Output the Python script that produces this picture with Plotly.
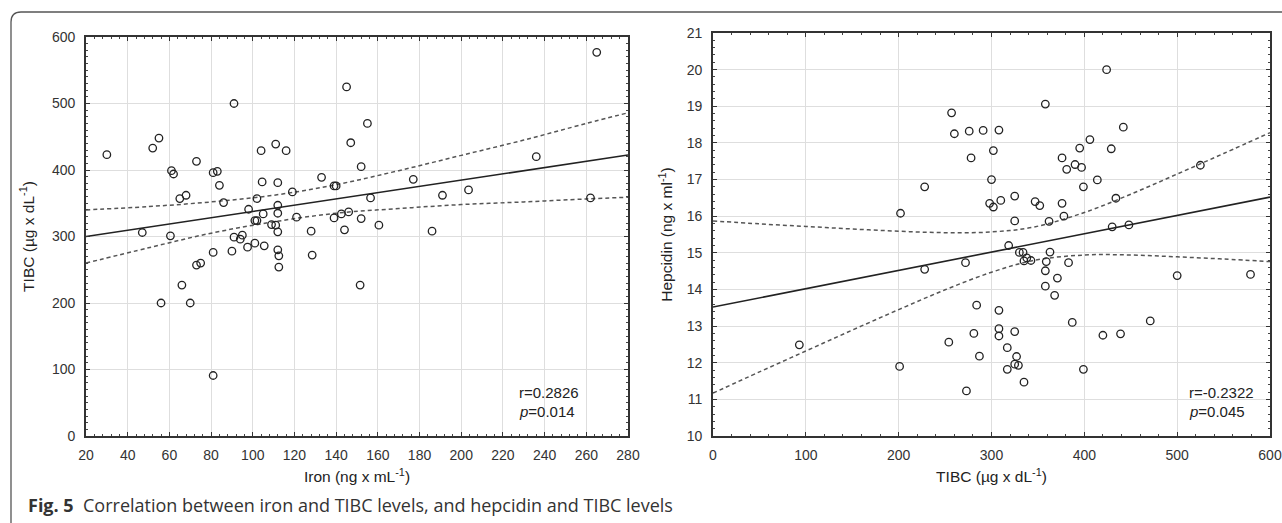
import plotly.graph_objects as go

W, H = 1282, 523

# ---------------- Left panel: Iron vs TIBC ----------------
iron = [30, 47, 52, 55, 56, 60.5, 61, 62, 65, 66, 68, 70, 73, 73, 75, 81, 83, 84, 81, 81,
        86, 90, 91, 91, 94, 95, 98, 97.5, 101, 101, 102, 102, 104, 104.5, 105, 105.5, 109, 111,
        111, 112, 112, 112, 112, 112, 112.5, 112.5, 116, 119, 121, 128, 128.5, 133, 139, 140,
        139, 142.5, 146, 144, 145, 147, 152, 155, 152, 151.5, 156.5, 160.5, 177, 186, 191,
        203.5, 236, 262, 265]
tibc_l = [423, 306, 433, 448, 200, 301, 399, 394, 357, 227, 362, 200, 413, 257, 260, 396, 398,
          377, 276, 91, 351, 278, 500, 299, 296, 302, 341, 284, 290, 324, 324, 357, 429, 382,
          334, 286, 318, 317, 439, 381, 347, 335, 307, 280, 271, 254, 429, 367, 329, 308, 272,
          389, 376, 376, 328, 334, 337, 310, 525, 441, 405, 470, 327, 227, 358, 317, 386, 308,
          362, 370, 420, 358, 577]
fit_l_x = [20, 280]
fit_l_y = [300, 422.5]
band_l_x = [20, 50, 80, 110, 140, 170, 200, 230, 260, 280]
band_l_up = [340, 345, 352, 362, 378, 399, 422, 445, 470, 486]
band_l_lo = [260, 283, 305, 322, 335, 342, 348, 352, 356.5, 359]

# ---------------- Right panel: TIBC vs Hepcidin ----------------
tibc_r = [93, 201, 202, 228, 228, 254, 257, 260, 272, 273, 276, 278, 281, 284, 287, 291, 298,
          300, 302, 302, 308, 308, 308, 308, 310, 317, 317, 318.5, 325, 325, 325, 325, 327, 329,
          330, 334, 335, 338, 342.5, 335, 347, 352, 358, 359, 358, 358, 362, 363, 368, 371, 376,
          376, 378, 381, 383, 387, 390, 395, 397, 399, 399, 406, 414, 420, 424, 429, 430, 434,
          439, 442, 448, 471, 500, 525, 579]
hepc = [12.49, 11.90, 16.08, 16.80, 14.55, 12.56, 18.82, 18.25, 14.73, 11.23, 18.32, 17.59,
        12.80, 13.57, 12.18, 18.34, 16.35, 17.00, 17.79, 16.25, 18.35, 13.43, 12.93, 12.73,
        16.43, 12.41, 11.82, 15.20, 16.55, 15.87, 12.85, 11.96, 12.17, 11.93, 15.01, 15.01,
        14.78, 14.86, 14.79, 11.47, 16.40, 16.29, 19.06, 14.76, 14.51, 14.09, 15.86, 15.02,
        13.84, 14.31, 17.59, 16.35, 16.00, 17.28, 14.73, 13.10, 17.41, 17.86, 17.33, 16.80,
        11.82, 18.09, 16.99, 12.75, 20.00, 17.84, 15.71, 16.49, 12.79, 18.43, 15.76, 13.14,
        14.38, 17.39, 14.41]
fit_r_x = [0, 600]
fit_r_y = [13.52, 16.52]
band_r_x = [0, 50, 100, 150, 200, 250, 300, 345, 400, 450, 500, 550, 600]
band_r_up = [15.87, 15.79, 15.72, 15.65, 15.59, 15.55, 15.57, 15.70, 16.10, 16.60, 17.15, 17.71, 18.28]
band_r_lo = [11.17, 11.75, 12.32, 12.89, 13.45, 13.99, 14.47, 14.79, 14.94, 14.94, 14.89, 14.83, 14.76]

left_xticks = list(range(20, 281, 20))
left_yticks = list(range(0, 601, 100))
right_xticks = list(range(0, 601, 100))
right_yticks = list(range(10, 22))

TICKFONT = dict(family="Liberation Sans, Arial", size=14, color="#333")
TITLEFONT = dict(family="Liberation Sans, Arial", size=15.5, color="#222")
MARK = dict(symbol="circle-open", size=7.5, color="#222", line=dict(width=1.3, color="#222"))
SOLID = dict(color="#222", width=1.6)
DASH = dict(color="#555", width=1.5, dash="4px,3px", shape="spline")

fig = go.Figure()
fig.add_trace(go.Scatter(x=band_l_x, y=band_l_up, mode="lines", line=DASH, xaxis="x", yaxis="y"))
fig.add_trace(go.Scatter(x=band_l_x, y=band_l_lo, mode="lines", line=DASH, xaxis="x", yaxis="y"))
fig.add_trace(go.Scatter(x=fit_l_x, y=fit_l_y, mode="lines", line=SOLID, xaxis="x", yaxis="y"))
fig.add_trace(go.Scatter(x=iron, y=tibc_l, mode="markers", marker=MARK, xaxis="x", yaxis="y"))

fig.add_trace(go.Scatter(x=band_r_x, y=band_r_up, mode="lines", line=DASH, xaxis="x2", yaxis="y2"))
fig.add_trace(go.Scatter(x=band_r_x, y=band_r_lo, mode="lines", line=DASH, xaxis="x2", yaxis="y2"))
fig.add_trace(go.Scatter(x=fit_r_x, y=fit_r_y, mode="lines", line=SOLID, xaxis="x2", yaxis="y2"))
fig.add_trace(go.Scatter(x=tibc_r, y=hepc, mode="markers", marker=MARK, xaxis="x2", yaxis="y2"))


def px(x):
    return x / W


def py(y):
    return 1 - y / H


def axis(domain, rng, ticks, minor_dtick, title, standoff):
    return dict(
        domain=domain, range=rng, tickvals=ticks, ticks="inside", ticklen=4, tickwidth=1,
        tickcolor="#333", showline=True, linecolor="#333", linewidth=1.6, mirror="allticks",
        showgrid=True, gridcolor="#dedede", gridwidth=1.3, zeroline=False,
        tickfont=TICKFONT, ticklabelstandoff=standoff, automargin=False,
        minor=dict(dtick=minor_dtick, ticks="inside", ticklen=2, tickcolor="#444", showgrid=False),
        title=dict(text=title, font=TITLEFONT),
    )


fig.update_layout(
    width=W, height=H, margin=dict(l=0, r=0, t=0, b=0),
    paper_bgcolor="white", plot_bgcolor="white", showlegend=False,
    xaxis=axis([px(86), px(628)], [20, 280], left_xticks, 4,
               "Iron (ng x mL<sup>-1</sup>)", 5),
    yaxis=axis([py(436), py(37)], [0, 600], left_yticks, 10,
               "TIBC (µg x dL<sup>-1</sup>)", 6),
    xaxis2=axis([px(713), px(1270)], [0, 600], right_xticks, 20,
                "TIBC (µg x dL<sup>-1</sup>)", 5),
    yaxis2=axis([py(436), py(33)], [10, 21], right_yticks, 0.2,
                "Hepcidin (ng x ml<sup>-1</sup>)", 6),
)
fig.layout.xaxis2.anchor = "y2"
fig.layout.yaxis2.anchor = "x2"
fig.layout.xaxis.title.standoff = 10
fig.layout.xaxis2.title.standoff = 10
fig.layout.yaxis.title.standoff = 14
fig.layout.yaxis2.title.standoff = 10

ann_font = dict(family="Liberation Sans, Arial", size=15, color="#222")
annos = [
    (517, 392, "r=0.2826"), (517, 411, "<i>p</i>=0.014"),
    (1187, 392, "r=-0.2322"), (1187, 411, "<i>p</i>=0.045"),
]
for ax_, ay_, t in annos:
    fig.add_annotation(x=px(ax_), y=py(ay_), xref="paper", yref="paper", text=t,
                       showarrow=False, xanchor="left", yanchor="middle", font=ann_font)

fig.add_annotation(
    x=px(26), y=py(505), xref="paper", yref="paper", xanchor="left", yanchor="middle",
    showarrow=False,
    text="<b>Fig. 5</b>  Correlation between iron and TIBC levels, and hepcidin and TIBC levels",
    font=dict(family="Open Sans", size=18, color="#333"),
)

# outer rounded frame (top and left edges)
r = 10
path = (f"M {px(11)},{py(523)} L {px(11)},{py(12 + r)} "
        f"Q {px(11)},{py(12)} {px(11 + r)},{py(12)} L {px(1290)},{py(12)}")
fig.add_shape(type="path", path=path, xref="paper", yref="paper",
              line=dict(color="#555", width=1.3))

fig.write_html("out.html")
